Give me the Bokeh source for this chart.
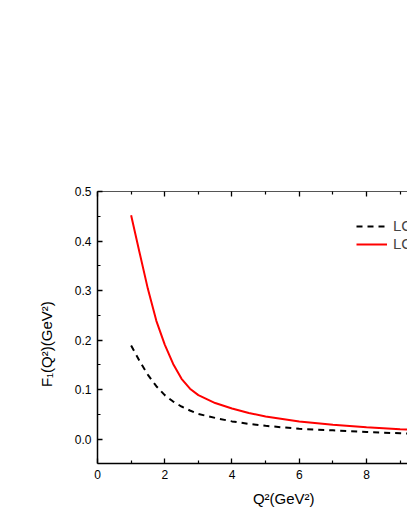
import numpy as np
from bokeh.plotting import figure
from bokeh.models import (LinearAxis, FixedTicker, PrintfTickFormatter, Legend,
                          LegendItem, ColumnDataSource)
from bokeh.embed import file_html
from bokeh.resources import INLINE

# ---- data ----
q2 = [1.0, 1.25, 1.5, 1.75, 2.0, 2.25, 2.5, 2.75, 3.0, 3.5, 4.0, 4.5, 5.0, 6.0, 7.0, 8.0, 9.0, 10.0]
f1_dashed = [0.189, 0.158, 0.130, 0.107, 0.089, 0.076, 0.066, 0.058, 0.051, 0.043, 0.036,
             0.031, 0.027, 0.021, 0.018, 0.0145, 0.012, 0.010]
f1_red = [0.452, 0.377, 0.303, 0.239, 0.191, 0.152, 0.122, 0.102, 0.089, 0.073, 0.062,
          0.053, 0.046, 0.036, 0.029, 0.024, 0.020, 0.017]
series_names = ["LCSR", "LCSR"]
x_ticks = [0, 2, 4, 6, 8, 10]
x_minor = [1, 3, 5, 7, 9]
y_ticks = [0.0, 0.1, 0.2, 0.3, 0.4, 0.5]
y_minor = [0.05, 0.15, 0.25, 0.35, 0.45]
x_title = "Q²(GeV²)"
y_title = "F₁(Q²)(GeV²)"

FONT = "Liberation Sans"
NBSP = "\u00a0"

p = figure(width=407, height=527, x_range=(0, 9.22), y_range=(-0.049, 0.5),
           output_backend="svg", toolbar_location=None,
           min_border_left=97, min_border_top=191, min_border_bottom=64,
           min_border_right=0)
p.outline_line_color = None
p.xgrid.visible = False
p.ygrid.visible = False
p.background_fill_color = "white"
p.border_fill_color = "white"

src = ColumnDataSource(dict(x=q2, yd=f1_dashed, yr=f1_red))
r1 = p.line("x", "yd", source=src, line_color="black", line_width=2, line_dash="6 5")
r2 = p.line("x", "yr", source=src, line_color="#ff0000", line_width=2)

def style_axis(ax, ticks, minor):
    ax.ticker = FixedTicker(ticks=ticks, minor_ticks=minor)
    ax.axis_line_color = "black"
    ax.axis_line_width = 1.5
    ax.major_tick_line_color = "black"
    ax.minor_tick_line_color = "black"
    ax.major_tick_line_width = 1.3
    ax.minor_tick_line_width = 1.2
    ax.major_tick_in = 5
    ax.major_tick_out = 0
    ax.minor_tick_in = 3
    ax.minor_tick_out = 0
    ax.major_label_text_font = FONT
    ax.major_label_text_font_size = "12px"
    ax.major_label_text_color = "black"
    ax.axis_label_text_font = FONT
    ax.axis_label_text_font_size = "15px"
    ax.axis_label_text_font_style = "normal"
    ax.axis_label_text_color = "black"

xa = p.xaxis[0]
style_axis(xa, x_ticks, x_minor)
xa.major_label_standoff = 6
# leading no-break spaces shift the centred title to the right, as in the reference
xa.axis_label = NBSP * 15 + x_title
xa.axis_label_standoff = 8

ya = p.yaxis[0]
style_axis(ya, y_ticks, y_minor)
ya.formatter = PrintfTickFormatter(format="%.1f")
ya.major_label_standoff = 6
ya.axis_label = y_title + NBSP * 8
ya.axis_label_standoff = 17

top = LinearAxis()
style_axis(top, x_ticks, x_minor)
top.axis_line_width = 1
top.axis_line_color = "#555555"
top.major_label_text_color = None
p.add_layout(top, "above")

legend = Legend(items=[LegendItem(label=series_names[0], renderers=[r1]),
                       LegendItem(label=series_names[1], renderers=[r2])],
                location=(259, 211), padding=0, margin=0, spacing=1,
                glyph_width=31, glyph_height=16, label_height=16, label_standoff=6,
                label_text_font=FONT, label_text_font_size="15px",
                border_line_color=None, background_fill_alpha=0)
p.add_layout(legend)

open("out.html", "w").write(file_html(p, INLINE))
